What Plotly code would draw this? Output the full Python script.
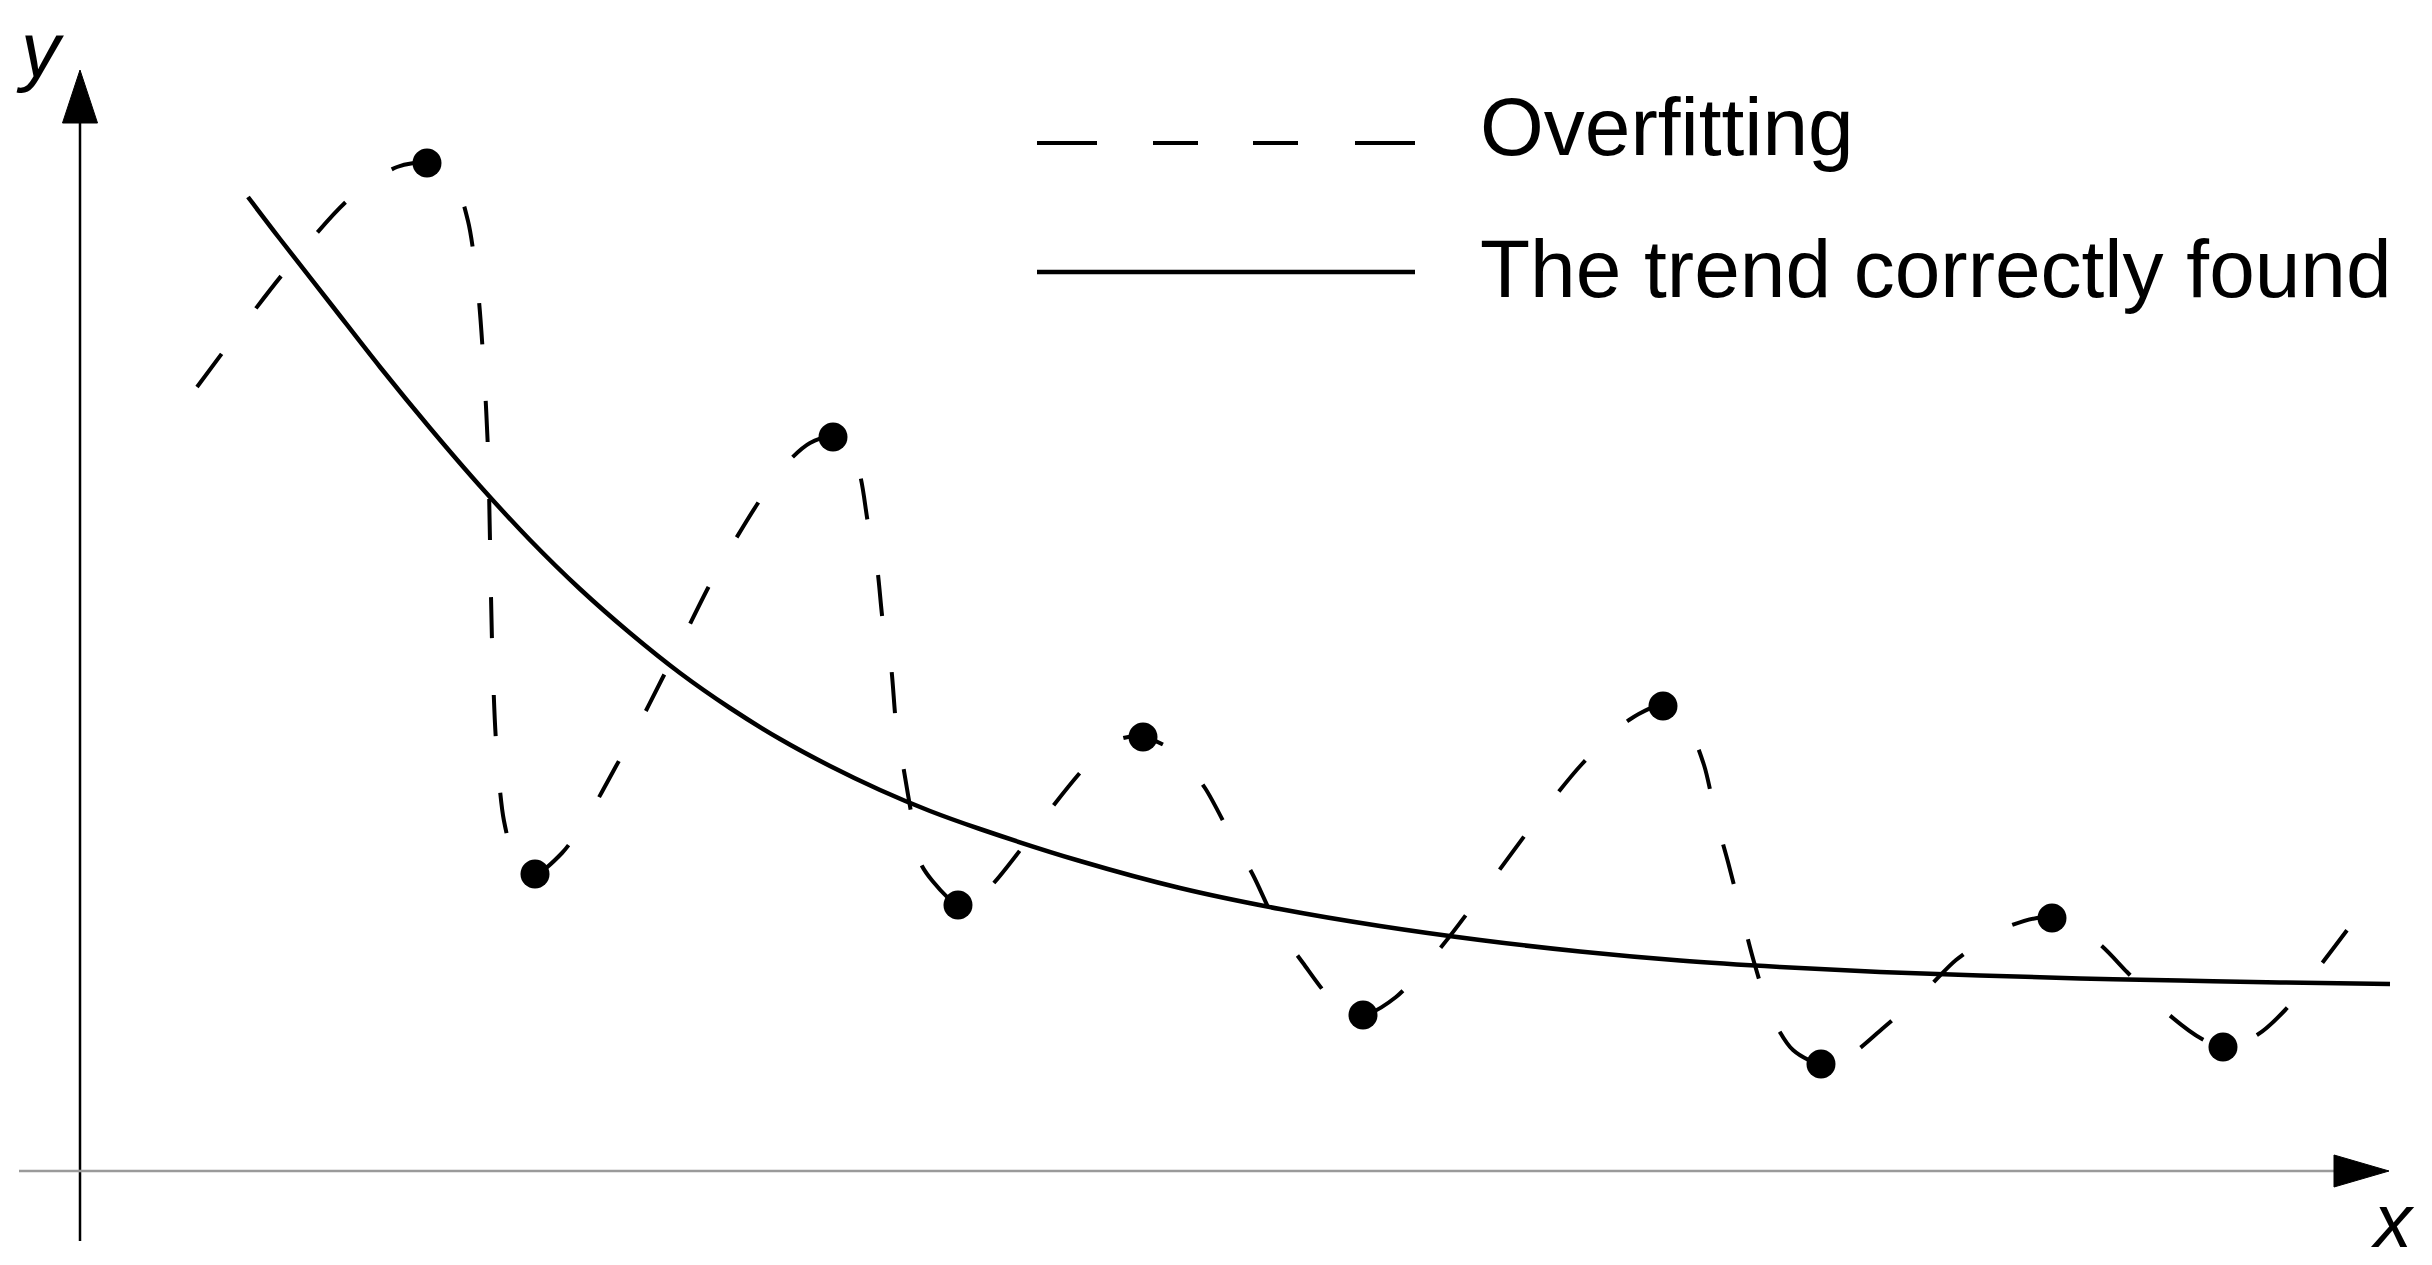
import plotly.graph_objects as go

# ---------------- data (schematic units: origin at axes crossing) ----------------
POINTS_X = [3.47, 4.55, 7.53, 8.78, 10.63, 12.83, 15.83, 17.41, 19.72, 21.43]
POINTS_Y = [10.08, 2.97, 7.34, 2.66, 4.34, 1.56, 4.65, 1.07, 2.53, 1.24]

# dashed "overfitting" curve passing through the points
OVERFIT_X = [1.17, 2.02, 2.68, 3.17, 3.47, 3.72, 3.88, 3.98, 4.04, 4.08, 4.10, 4.12, 4.16, 4.24, 4.36, 4.55,
             4.82, 5.07, 5.35, 5.55, 5.82, 6.02, 6.28, 6.48, 6.78, 7.04, 7.30, 7.53,
             7.77, 7.88, 7.97, 8.03, 8.11, 8.16, 8.23, 8.33, 8.42, 8.78,
             8.92, 9.12, 9.48, 9.73, 10.10, 10.40, 10.63,
             10.97, 11.25, 11.52, 11.73, 11.98, 12.23, 12.55, 12.83,
             13.16, 13.62, 14.09, 14.55, 15.02, 15.49, 15.83,
             16.08, 16.24, 16.37, 16.48, 16.63, 16.74, 16.92, 17.13, 17.41,
             17.70, 18.02, 18.46, 18.76, 19.25, 19.57, 19.72,
             20.17, 20.47, 20.87, 21.22, 21.43, 21.77, 22.08, 22.43, 22.68]
OVERFIT_Y = [7.84, 8.96, 9.71, 10.04, 10.08, 9.95, 9.50, 8.80, 8.00, 7.20, 6.30, 5.30, 4.30, 3.50, 3.10, 2.97,
             3.18, 3.53, 4.03, 4.39, 4.92, 5.31, 5.83, 6.19, 6.68, 7.05, 7.28, 7.34,
             7.05, 6.48, 6.04, 5.48, 5.05, 4.48, 4.06, 3.48, 3.05, 2.66,
             2.69, 2.86, 3.31, 3.65, 4.09, 4.32, 4.34,
             4.18, 3.83, 3.33, 2.96, 2.44, 2.08, 1.68, 1.56,
             1.74, 2.25, 2.87, 3.49, 4.07, 4.51, 4.65,
             4.44, 4.06, 3.49, 3.09, 2.51, 2.09, 1.54, 1.21, 1.07,
             1.16, 1.42, 1.81, 2.11, 2.43, 2.53, 2.53,
             2.29, 1.99, 1.58, 1.32, 1.24, 1.36, 1.64, 2.09, 2.42]

# solid "trend" curve
TREND_X = [1.68, 2.0, 2.5, 3.0, 3.5, 4.0, 4.5, 5.0, 5.5, 6.0, 6.5, 7.0, 7.5, 8.0, 8.5, 9.0,
           10.0, 11.0, 12.0, 13.0, 14.0, 15.0, 16.0, 17.0, 18.0, 19.0, 20.0, 21.0, 22.0, 23.10]
TREND_Y = [9.74, 9.32, 8.68, 8.04, 7.43, 6.85, 6.31, 5.82, 5.38, 4.98, 4.63, 4.32, 4.05, 3.81, 3.60, 3.42,
           3.10, 2.83, 2.62, 2.45, 2.31, 2.195, 2.105, 2.04, 1.99, 1.955, 1.925, 1.905, 1.885, 1.87]

LEGEND_LABELS = ["Overfitting", "The trend correctly found"]
AXIS_LABELS = ["y", "x"]

# ---------------- layout helpers ----------------
W, H = 2432, 1265
X_RANGE = [-0.80, 23.52]
Y_RANGE = [-0.94, 11.71]


def px_x(px):
    """page pixel -> x data"""
    return (px - 80) / 100.0


def px_y(py):
    """page pixel -> y data"""
    return (1171 - py) / 100.0


FONT = "Liberation Sans, Arial, Helvetica, sans-serif"

fig = go.Figure()

fig.add_trace(go.Scatter(
    x=OVERFIT_X, y=OVERFIT_Y, mode="lines", name=LEGEND_LABELS[0],
    line=dict(color="black", width=4, dash="41px,57px", shape="spline", smoothing=0.8),
    showlegend=False, hoverinfo="skip"))

fig.add_trace(go.Scatter(
    x=TREND_X, y=TREND_Y, mode="lines", name=LEGEND_LABELS[1],
    line=dict(color="black", width=4.5, shape="spline", smoothing=1.0),
    showlegend=False, hoverinfo="skip"))

fig.add_trace(go.Scatter(
    x=POINTS_X, y=POINTS_Y, mode="markers", name="data",
    marker=dict(color="black", size=29, line=dict(width=0)),
    showlegend=False, hoverinfo="skip"))

shapes = [
    # y axis
    dict(type="line", x0=0, y0=px_y(1241), x1=0, y1=px_y(120),
         line=dict(color="black", width=2.5)),
    dict(type="path", path=f"M {-0.175},{px_y(123)} L 0,{px_y(70)} L {0.175},{px_y(123)} Z",
         fillcolor="black", line=dict(color="black", width=1)),
    # x axis
    dict(type="line", x0=px_x(19), y0=0, x1=px_x(2340), y1=0,
         line=dict(color="#9a9a9a", width=2.5)),
    dict(type="path", path=f"M {px_x(2334)},0.16 L {px_x(2389)},0 L {px_x(2334)},-0.16 Z",
         fillcolor="black", line=dict(color="black", width=1)),
    # legend samples
    dict(type="line", x0=px_x(1037), y0=px_y(143), x1=px_x(1415), y1=px_y(143),
         line=dict(color="black", width=4, dash="60px,56px,45px,55px,45px,57px")),
    dict(type="line", x0=px_x(1037), y0=px_y(272), x1=px_x(1415), y1=px_y(272),
         line=dict(color="black", width=4.5)),
]

annotations = [
    dict(text=LEGEND_LABELS[0], x=px_x(1478), y=px_y(126), xref="x", yref="y",
         xanchor="left", yanchor="middle", showarrow=False,
         font=dict(family=FONT, size=82, color="black")),
    dict(text=LEGEND_LABELS[1], x=px_x(1478), y=px_y(268), xref="x", yref="y",
         xanchor="left", yanchor="middle", showarrow=False,
         font=dict(family=FONT, size=82, color="black")),
    dict(text=f"<i>{AXIS_LABELS[0]}</i>", x=px_x(40), y=px_y(50), xref="x", yref="y",
         xanchor="center", yanchor="middle", showarrow=False,
         font=dict(family=FONT, size=78, color="black")),
    dict(text=f"<i>{AXIS_LABELS[1]}</i>", x=px_x(2392), y=px_y(1220), xref="x", yref="y",
         xanchor="center", yanchor="middle", showarrow=False,
         font=dict(family=FONT, size=76, color="black")),
]

fig.update_layout(
    width=W, height=H,
    margin=dict(l=0, r=0, t=0, b=0, pad=0),
    paper_bgcolor="white", plot_bgcolor="white",
    xaxis=dict(range=X_RANGE, visible=False, fixedrange=True),
    yaxis=dict(range=Y_RANGE, visible=False, fixedrange=True),
    shapes=shapes, annotations=annotations,
    showlegend=False,
)

fig.write_html(
    "out.html",
    config={"displayModeBar": False},
    post_script="document.body.style.margin='0';document.body.style.overflow='hidden';",
)
